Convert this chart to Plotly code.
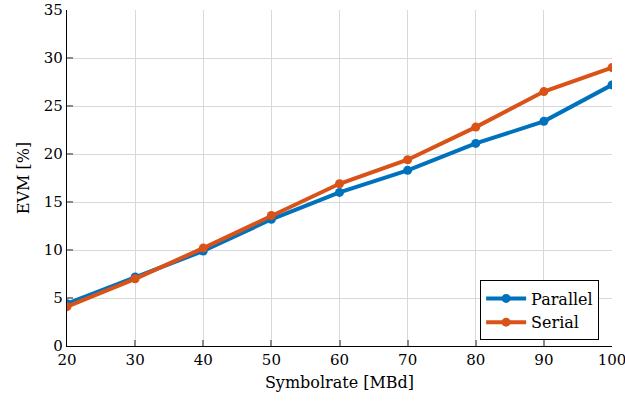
import plotly.graph_objects as go

symbolrate = [20, 30, 40, 50, 60, 70, 80, 90, 100]
evm_parallel = [4.4, 7.2, 9.9, 13.2, 16.0, 18.3, 21.1, 23.4, 27.2]
evm_serial = [4.1, 7.0, 10.2, 13.6, 16.9, 19.4, 22.8, 26.5, 29.0]

FONT = "DejaVu Serif"

fig = go.Figure()
fig.add_trace(go.Scatter(x=symbolrate, y=evm_parallel, name="Parallel", mode="lines+markers",
                         line=dict(color="#0072BD", width=4), marker=dict(size=9, color="#0072BD")))
fig.add_trace(go.Scatter(x=symbolrate, y=evm_serial, name="Serial", mode="lines+markers",
                         line=dict(color="#D95319", width=4), marker=dict(size=9, color="#D95319")))

axis_common = dict(showgrid=True, gridcolor="#d9d9d9", gridwidth=1.2, showline=True, linecolor="#000000",
                   linewidth=1.2, ticks="inside", ticklen=6, tickcolor="#888888", tickwidth=1.5,
                   zeroline=False, automargin=False, ticklabeloverflow="allow",
                   tickfont=dict(family=FONT, size=15, color="#000"))

fig.update_layout(
    width=625, height=402,
    margin=dict(l=67, r=13, t=10, b=56),
    paper_bgcolor="white", plot_bgcolor="white",
    font=dict(family=FONT, size=16, color="#000"),
    xaxis=dict(range=[20, 100], dtick=10, title=dict(text="Symbolrate [MBd]", font=dict(family=FONT, size=16), standoff=8), **axis_common),
    yaxis=dict(range=[0, 35], dtick=5, title=dict(text="EVM [%]", font=dict(family=FONT, size=16), standoff=10), **axis_common),
    legend=dict(x=0.758, y=0.195, xanchor="left", yanchor="top", bgcolor="white", bordercolor="#000",
                borderwidth=1, font=dict(family=FONT, size=16), itemwidth=40, tracegroupgap=0),
    showlegend=True,
)
fig.write_html("out.html")
